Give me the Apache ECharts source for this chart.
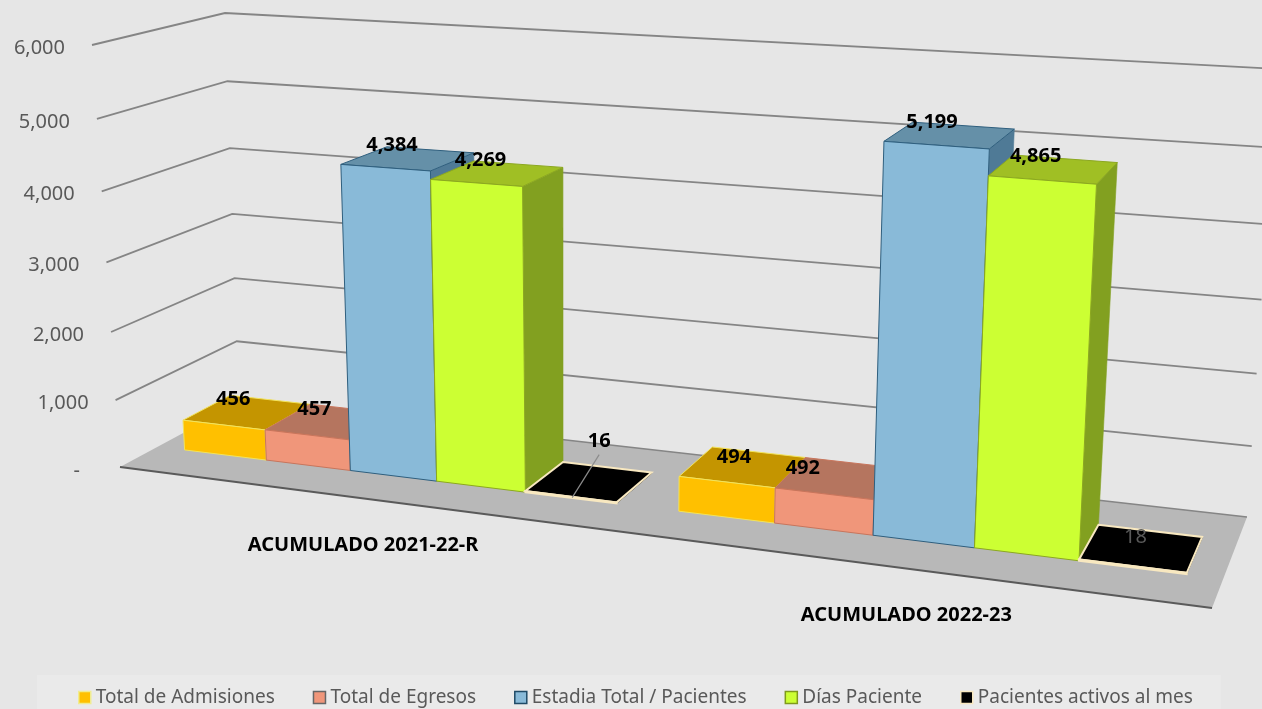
<!DOCTYPE html>
<html>
<head>
<meta charset="utf-8">
<style>
  html, body { margin: 0; padding: 0; background: #e6e6e6; }
  #chart { width: 1262px; height: 709px; }
</style>
<script src="https://cdn.jsdelivr.net/npm/echarts@6/dist/echarts.min.js"></script>
</head>
<body>
<div id="chart"></div>
<script>
// data
const categories = ["ACUMULADO 2021-22-R", "ACUMULADO 2022-23"];
const seriesNames = ["Total de Admisiones", "Total de Egresos", "Estadia Total / Pacientes", "Días Paciente", "Pacientes activos al mes"];
const admisiones = [456, 494];
const egresos = [457, 492];
const estadia = [4384, 5199];
const diasPaciente = [4269, 4865];
const activos = [16, 18];
const yTicks = [0, 1000, 2000, 3000, 4000, 5000, 6000];
const tickLabels = ["-", "1,000", "2,000", "3,000", "4,000", "5,000", "6,000"];

const allValues = [admisiones, egresos, estadia, diasPaciente, activos];

const colors = [
  { front: "#ffc000", top: "#c49500", side: "#c49500", line: "#f2e35c", legend: "#f0ec90" },
  { front: "#f0967a", top: "#b5755f", side: "#b5755f", line: "#c8755c", legend: "#666666" },
  { front: "#89bad8", top: "#6590a8", side: "#4f7a96", line: "#2f5f7e", legend: "#1f4a66" },
  { front: "#ccff33", top: "#a0bf24", side: "#82a020", line: "#8ca820", legend: "#7f9a1c" },
  { front: "#000000", top: "#000000", side: "#000000", line: "#f8e8c0", legend: "#f8e8c0" }
];

const fontName = '"Noto Sans"';

// corners of the floor on screen, and how far each corner moves up at the top of the axis
const floorQuad = [[120, 467], [1212, 608], [1247, 517], [239, 403]];
const riseFront = [[-28, -422], [27, -490]];
const riseBack = [[-14, -390], [30, -448]];

// hand moved labels, [series][category] -> dx, dy from the top face
const labelNudge = [
  [[-14, -13], [-9, -10]],
  [[-15, -12], [-36, -10]],
  [[-16, -13], [-18, -13]],
  [[-17, -13], [-18, -13]],
  [[10, -40], [-6, -11]]
];

// unit square -> quad
function makeWarp(q) {
  let dx1 = q[1][0] - q[2][0], dx2 = q[3][0] - q[2][0], sx = q[0][0] - q[1][0] + q[2][0] - q[3][0];
  let dy1 = q[1][1] - q[2][1], dy2 = q[3][1] - q[2][1], sy = q[0][1] - q[1][1] + q[2][1] - q[3][1];
  let den = dx1 * dy2 - dx2 * dy1;
  let g = (sx * dy2 - dx2 * sy) / den;
  let h = (dx1 * sy - sx * dy1) / den;
  let a = q[1][0] - q[0][0] + g * q[1][0], b = q[3][0] - q[0][0] + h * q[3][0], c = q[0][0];
  let d = q[1][1] - q[0][1] + g * q[1][1], e = q[3][1] - q[0][1] + h * q[3][1], f = q[0][1];
  return (u, v) => {
    let w = g * u + h * v + 1;
    return [(a * u + b * v + c) / w, (d * u + e * v + f) / w];
  };
}
const floorWarp = makeWarp(floorQuad);

// u along the categories, v into the depth, t = share of the value axis
function project(u, v, t) {
  let p = floorWarp(u + 0.036 * u * (1 - u), v);
  let tt = t * (0.94 + 0.06 * t);   // steps grow a bit towards the top
  let k = [0, 1].map(n => {
    let front = riseFront[0][n] + (riseFront[1][n] - riseFront[0][n]) * u;
    let back = riseBack[0][n] + (riseBack[1][n] - riseBack[0][n]) * u;
    return front + (back - front) * v;
  });
  return [p[0] + k[0] * tt, p[1] + k[1] * tt];
}

// flat position from the hidden axes -> u and t
function toUT(pt, cs) {
  return [(pt[0] - cs.x) / cs.width, (cs.y + cs.height - pt[1]) / cs.height];
}

const barShare = 0.1765;   // one bar as share of the category band
const depthFront = 0.3, depthBack = 0.7;

function poly(points, fill, stroke, lw) {
  return { type: "polygon", shape: { points: points }, style: { fill: fill, stroke: stroke, lineWidth: lw } };
}
function label(text, x, y, font, fill, align) {
  return {
    type: "text", z2: 100,
    style: { text: text, x: x, y: y, font: font, fill: fill, align: align || "center", verticalAlign: "middle" }
  };
}

function renderFrame(params, api) {
  let cs = params.coordSys;
  let i = params.dataIndex;
  let val = api.value(1);
  let t = toUT(api.coord([0, val]), cs)[1];
  let a = project(0, 0, t), b = project(0, 1, t), c = project(1, 1, t);
  let children = [];
  if (val === 0) {
    children.push(poly([floorWarp(0, 0), floorWarp(1, 0), floorWarp(1, 1), floorWarp(0, 1)], "#b8b8b8", null, 0));
    children.push({ type: "polyline", shape: { points: [floorWarp(0, 0), floorWarp(1, 0)] }, style: { stroke: "#5a5a5a", lineWidth: 1.8, fill: null } });
    children.push({ type: "polyline", shape: { points: [floorWarp(0, 1), floorWarp(1, 1)] }, style: { stroke: "#858585", lineWidth: 1.6, fill: null } });
    children.push(label(tickLabels[i], a[0] - 40, a[1] + 4, '20px ' + fontName, "#595959", "right"));
  } else {
    children.push({ type: "polyline", shape: { points: [a, b, c] }, style: { stroke: "#858585", lineWidth: 1.8, fill: null } });
    children.push(label(tickLabels[i], a[0] - 27, a[1] + 3, '20px ' + fontName, "#595959", "right"));
  }
  return { type: "group", children: children };
}

function renderCategory(params, api) {
  let cs = params.coordSys;
  let u = toUT(api.coord([api.value(0), 0]), cs)[0];
  let p = project(u, 0, 0);
  return label(categories[params.dataIndex], p[0] + 3, p[1] + 47, 'bold 20px ' + fontName, "#000000");
}

function makeBarRender(s) {
  return function (params, api) {
    let cs = params.coordSys;
    let cat = api.value(0), val = api.value(1);
    let center = api.coord([cat, 0]);
    let band = api.size([1, 0])[0];
    let leftX = center[0] + (s - 2.5) * barShare * band;
    let rightX = leftX + barShare * band;
    let u0 = toUT([leftX, center[1]], cs)[0];
    let u1 = toUT([rightX, center[1]], cs)[0];
    let t = toUT(api.coord([cat, val]), cs)[1];
    let col = colors[s];

    let fb0 = project(u0, depthFront, 0), fb1 = project(u1, depthFront, 0);
    let bb1 = project(u1, depthBack, 0);
    let ft0 = project(u0, depthFront, t), ft1 = project(u1, depthFront, t);
    let bt0 = project(u0, depthBack, t), bt1 = project(u1, depthBack, t);

    let lw = s === 4 ? 2 : 1;
    let children = [
      poly([fb1, bb1, bt1, ft1], col.side, col.side, 0.6),
      poly([ft0, ft1, bt1, bt0], col.top, col.line, lw),
      poly([fb0, fb1, ft1, ft0], col.front, col.line, lw)
    ];

    // label near the middle of the top face
    let mid = project((u0 + u1) / 2, (depthFront + depthBack) / 2, t);
    let text = val.toLocaleString("en-US");
    let nudge = labelNudge[s][cat];
    let lx = mid[0] + nudge[0], ly = mid[1] + nudge[1];
    if (s === 4 && cat === 0) {
      // this one was pulled off the bar, with a leader line
      children.push({
        type: "polyline", z2: 50,
        shape: { points: [[lx, ly + 13], [lx - 27, ly + 56]] },
        style: { stroke: "#8c8c8c", lineWidth: 1.2, fill: null }
      });
    }
    if (s === 4 && cat === 1) {
      children.push(label(text, lx, ly, '20px ' + fontName, "#595959"));
    } else {
      children.push(label(text, lx, ly, 'bold 20px ' + fontName, "#000000"));
    }
    return { type: "group", children: children };
  };
}

const series = [
  {
    type: "custom", name: "frame", coordinateSystem: "cartesian2d", silent: true,
    renderItem: renderFrame, encode: { x: 0, y: 1 },
    data: yTicks.map(v => [0, v])
  },
  {
    type: "custom", name: "categories", coordinateSystem: "cartesian2d", silent: true,
    renderItem: renderCategory, encode: { x: 0, y: 1 },
    data: categories.map((c, i) => [i, 0])
  }
];
seriesNames.forEach((name, s) => {
  series.push({
    type: "custom", name: name, coordinateSystem: "cartesian2d",
    renderItem: makeBarRender(s), encode: { x: 0, y: 1 },
    itemStyle: { color: colors[s].front },
    data: allValues[s].map((v, i) => [i, v])
  });
});

const chart = echarts.init(document.getElementById("chart"), null, { renderer: "canvas" });
chart.setOption({
  animation: false,
  backgroundColor: "#e6e6e6",
  grid: { left: 0, right: 0, top: 0, bottom: 0 },
  xAxis: { type: "category", data: categories, show: false },
  yAxis: { type: "value", min: 0, max: 6000, interval: 1000, show: false },
  legend: {
    left: 37, top: 675,
    padding: [13, 28, 8, 41],
    backgroundColor: "#eaeaea",
    borderRadius: 0,
    icon: "rect",
    itemWidth: 12, itemHeight: 12, itemGap: 38,
    selectedMode: false,
    textStyle: { fontFamily: fontName, fontSize: 19, color: "#595959" },
    data: seriesNames.map((n, s) => ({
      name: n,
      itemStyle: { color: colors[s].front, borderColor: colors[s].legend, borderWidth: 1.5 }
    }))
  },
  series: series
});
</script>
</body>
</html>
